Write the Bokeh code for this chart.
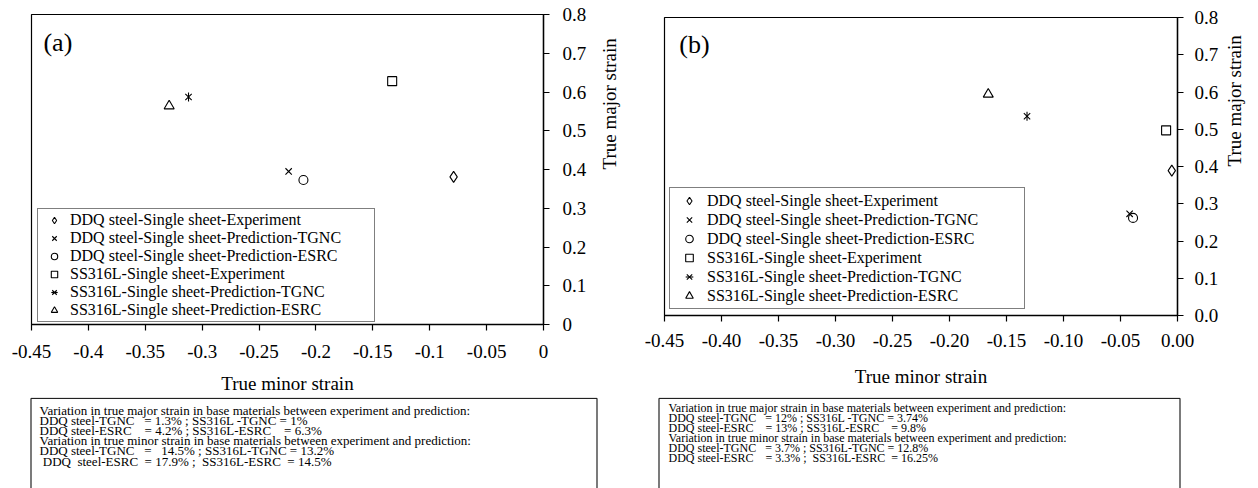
import math
from bokeh.plotting import figure
from bokeh.layouts import row, column
from bokeh.models import FixedTicker, Range1d, Legend, LegendItem, Label
from bokeh.embed import file_html
from bokeh.resources import INLINE
from bokeh.core.properties import value

FONT = "Liberation Serif"

# ---------------- data ----------------
series_names = [
    "DDQ steel-Single sheet-Experiment",
    "DDQ steel-Single sheet-Prediction-TGNC",
    "DDQ steel-Single sheet-Prediction-ESRC",
    "SS316L-Single sheet-Experiment",
    "SS316L-Single sheet-Prediction-TGNC",
    "SS316L-Single sheet-Prediction-ESRC",
]

# panel (a)
a_minor = [-0.079, -0.224, -0.211, -0.133, -0.312, -0.329]
a_major = [0.381, 0.395, 0.373, 0.628, 0.587, 0.564]
# panel (b)
b_minor = [-0.005, -0.042, -0.039, -0.010, -0.132, -0.166]
b_major = [0.389, 0.273, 0.262, 0.497, 0.535, 0.594]

x_ticks = [-0.45, -0.4, -0.35, -0.3, -0.25, -0.2, -0.15, -0.1, -0.05, 0.0]
a_x_labels = ["-0.45", "-0.4", "-0.35", "-0.3", "-0.25", "-0.2", "-0.15", "-0.1", "-0.05", "0"]
b_x_labels = ["-0.45", "-0.40", "-0.35", "-0.30", "-0.25", "-0.20", "-0.15", "-0.10", "-0.05", "0.00"]
y_ticks = [0.0, 0.1, 0.2, 0.3, 0.4, 0.5, 0.6, 0.7, 0.8]
a_y_labels = ["0", "0.1", "0.2", "0.3", "0.4", "0.5", "0.6", "0.7", "0.8"]
b_y_labels = ["0.0", "0.1", "0.2", "0.3", "0.4", "0.5", "0.6", "0.7", "0.8"]

NB = "\u00a0"
a_notes = [
    "Variation in true major strain in base materials between experiment and prediction:",
    "DDQ steel-TGNC" + NB * 2 + " = 1.3% ; SS316L -TGNC = 1%",
    "DDQ steel-ESRC" + NB * 3 + " = 4.2% ; SS316L-ESRC" + NB * 3 + " = 6.3%",
    "Variation in true minor strain in base materials between experiment and prediction:",
    "DDQ steel-TGNC" + NB * 2 + " =" + NB * 2 + " 14.5% ; SS316L-TGNC = 13.2%",
    NB + "DDQ" + NB + " steel-ESRC" + NB + " = 17.9% ;" + NB + " SS316L-ESRC" + NB + " = 14.5%",
]
b_notes = [
    "Variation in true major strain in base materials between experiment and prediction:",
    "DDQ steel-TGNC" + NB * 2 + " = 12% ; SS316L -TGNC = 3.74%",
    "DDQ steel-ESRC" + NB * 3 + " = 13% ; SS316L-ESRC" + NB * 3 + " = 9.8%",
    "Variation in true minor strain in base materials between experiment and prediction:",
    "DDQ steel-TGNC" + NB * 2 + " = 3.7% ; SS316L-TGNC = 12.8%",
    "DDQ steel-ESRC" + NB * 3 + " = 3.3% ;" + NB + " SS316L-ESRC" + NB + " = 16.25%",
]

# ---------------- layout constants (pixels) ----------------
WA, WB = 633, 625          # widths of the two chart figures
HA, HB = 397, 394          # heights of the two chart figures
W_ALL, H_NOTES = WA + WB, 488 - HA


def style_axes(p, xlabels, ylabels, xl_standoff, yl_standoff, xt_standoff, yt_standoff):
    xa = p.xaxis[0]
    xa.ticker = FixedTicker(ticks=x_ticks, minor_ticks=[])
    xa.major_label_overrides = dict(zip(x_ticks, xlabels))
    ya = p.yaxis[0]
    ya.ticker = FixedTicker(ticks=y_ticks, minor_ticks=[])
    ya.major_label_overrides = dict(zip(y_ticks, ylabels))
    for ax in (xa, ya):
        ax.axis_line_color = "black"
        ax.axis_line_width = 1.4
        ax.major_tick_line_color = "black"
        ax.major_tick_line_width = 1.2
        ax.major_tick_in = 0
        ax.major_tick_out = 6
        ax.minor_tick_line_color = None
        ax.major_label_text_font = FONT
        ax.major_label_text_font_size = "19px"
        ax.major_label_text_color = "black"
        ax.axis_label_text_font = FONT
        ax.axis_label_text_font_size = "19px"
        ax.axis_label_text_font_style = "normal"
        ax.axis_label_text_color = "black"
    xa.axis_label = "True minor strain"
    ya.axis_label = "True major strain"
    ya.axis_label_orientation = math.pi / 2
    xa.major_label_standoff = xt_standoff
    ya.major_label_standoff = yt_standoff
    xa.axis_label_standoff = xl_standoff
    ya.axis_label_standoff = yl_standoff
    p.xgrid.visible = False
    p.ygrid.visible = False
    p.outline_line_color = "black"
    p.outline_line_width = 1.2


def add_series(p, minor, major, leg_loc, leg_font, glyph_h, glyph_w, label_w, pad):
    specs = [("diamond", 11), ("x", 9), ("circle", 9), ("square", 9), ("xstar", 9), ("triangle", 10)]
    items = []
    for i, (mk, sz) in enumerate(specs):
        xs = [minor[i]]
        ys = [major[i]]
        if mk == "xstar":
            r1 = p.scatter(xs, ys, marker="x", size=sz, line_color="black", line_width=1.1)
            r2 = p.scatter(xs, ys, marker="dash", size=sz, angle=math.pi / 2,
                           line_color="black", line_width=1.1)
            rends = [r1, r2]
        else:
            r = p.scatter(xs, ys, marker=mk, size=sz, line_color="black",
                          fill_color="white", fill_alpha=0.0, line_width=1.1)
            rends = [r]
        items.append(LegendItem(label=series_names[i], renderers=rends))
    leg = Legend(items=items, location=leg_loc, margin=0, padding=pad, spacing=0,
                 glyph_width=glyph_w, glyph_height=glyph_h, label_height=glyph_h,
                 label_width=label_w, label_standoff=2,
                 label_text_font=FONT, label_text_font_size=leg_font, label_text_color="black",
                 border_line_color="black", border_line_width=1,
                 background_fill_color="white", background_fill_alpha=1.0)
    p.add_layout(leg)


def make_panel(minor, major, xlabels, ylabels, w, h, bl, bt, br, bb, tag, tag_xy,
               leg_loc, leg_font, glyph_h, glyph_w, label_w, pad, xl_standoff, yl_standoff,
               xt_standoff, yt_standoff):
    p = figure(width=w, height=h, x_range=Range1d(-0.45, 0.0), y_range=Range1d(0.0, 0.8),
               y_axis_location="right", output_backend="svg", toolbar_location=None,
               min_border_left=bl, min_border_top=bt, min_border_right=br, min_border_bottom=bb,
               background_fill_color="white", border_fill_color="white")
    style_axes(p, xlabels, ylabels, xl_standoff, yl_standoff, xt_standoff, yt_standoff)
    add_series(p, minor, major, leg_loc, leg_font, glyph_h, glyph_w, label_w, pad)
    p.add_layout(Label(x=tag_xy[0], y=tag_xy[1], text=tag, text_font=FONT,
                       text_font_size="26px", text_baseline="middle", text_align="left",
                       text_color="black"))
    return p


fa = make_panel(a_minor, a_major, a_x_labels, a_y_labels, WA, HA, 31, 14, WA - 543, HA - 324,
                "(a)", (-0.4395, 0.7285), (6, 2), "16px", 16, 28, 302, 2, 12, 20, 14, 13)
fb = make_panel(b_minor, b_major, b_x_labels, b_y_labels, WB, HB, 31, 17, 78, HB - 315,
                "(b)", (-0.437, 0.7275), (5, 6), "16px", 19, 32, 314, 3, 16, 13, 12, 11)

# ---------------- notes strip below both charts (x, y in page pixels) ----------------
notes = figure(width=W_ALL, height=H_NOTES, x_range=Range1d(0, W_ALL), y_range=Range1d(H_NOTES, 0),
               output_backend="svg", toolbar_location=None, x_axis_location=None,
               y_axis_location=None, min_border_left=0, min_border_right=0,
               min_border_top=0, min_border_bottom=0, outline_line_color=None,
               background_fill_color="white", border_fill_color="white")
notes.xgrid.visible = False
notes.ygrid.visible = False

box_left = [30.5, 658.5]
box_right = [596.5, 1179.5]
box_top = 0.8
bottom = H_NOTES + 5
notes.segment(x0=box_left + box_left + box_right,
              y0=[bottom, bottom, box_top, box_top, box_top, box_top],
              x1=box_left + box_right + box_right,
              y1=[box_top, box_top, box_top, box_top, bottom, bottom],
              line_color="#222222", line_width=1.2)

notes.text(x=[39] * len(a_notes), y=[13 + 10.1 * i for i in range(len(a_notes))], text=a_notes,
           text_font=value(FONT), text_font_size="13px", text_baseline="middle",
           text_align="left", text_color="black")
notes.text(x=[668] * len(b_notes), y=[10 + 10.1 * i for i in range(len(b_notes))], text=b_notes,
           text_font=value(FONT), text_font_size="12px", text_baseline="middle",
           text_align="left", text_color="black")

# each chart sits in its own column so the row does not force equal borders
layout = column(row(column(fa), column(fb), spacing=0), notes, spacing=0)

open("out.html", "w").write(file_html(layout, INLINE))
